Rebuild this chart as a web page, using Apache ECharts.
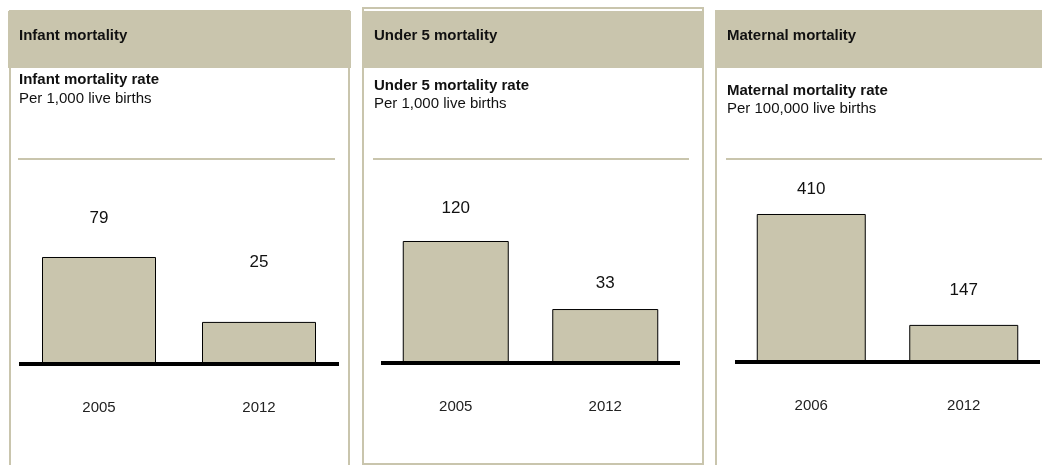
<!DOCTYPE html>
<html>
<head>
<meta charset="utf-8">
<script src="https://cdn.jsdelivr.net/npm/echarts@6/dist/echarts.min.js"></script>
<style>
html,body{margin:0;padding:0;background:#fff;}
#chart{width:1042px;height:465px;}
</style>
</head>
<body>
<div id="chart"></div>
<script>
// ---- data ----
const panelHeaders = ['Infant mortality', 'Under 5 mortality', 'Maternal mortality'];
const panelSubtitles = ['Infant mortality rate', 'Under 5 mortality rate', 'Maternal mortality rate'];
const panelUnits = ['Per 1,000 live births', 'Per 1,000 live births', 'Per 100,000 live births'];
const infantYears = ['2005', '2012'];
const infantValues = [79, 25];
const under5Years = ['2005', '2012'];
const under5Values = [120, 33];
const maternalYears = ['2006', '2012'];
const maternalValues = [410, 147];

// ---- layout / style ----
const BEIGE = '#c9c5ad';
const TEXT = '#111111';
const FONT = '"Liberation Sans", Arial, sans-serif';
const NARROW = '"Liberation Sans Narrow", "Arial Narrow", "Liberation Sans", sans-serif';

const layouts = [
  { left: 19, width: 320, height: 164, min: -10, max: 126.4, barWidth: 114, gaps: [30, 51],
    textX: 19, titleY: 36, subY: 80, unitY: 99, sepX1: 18, sepX2: 335 },
  { left: 381, width: 299, height: 163, min: -36, max: 172.4, barWidth: 106, gaps: [24, 17],
    textX: 374, titleY: 36, subY: 86, unitY: 104, sepX1: 373, sepX2: 689 },
  { left: 735, width: 305, height: 162, min: 59, max: 443.2, barWidth: 109, gaps: [16, 26],
    textX: 727, titleY: 36, subY: 91, unitY: 109, sepX1: 726, sepX2: 1042 }
];
const cats = [infantYears, under5Years, maternalYears];
const vals = [infantValues, under5Values, maternalValues];

const grids = [], xAxes = [], yAxes = [], series = [];
layouts.forEach((L, i) => {
  grids.push({ left: L.left, width: L.width, top: 200, height: L.height, containLabel: false });
  xAxes.push({
    type: 'category', gridIndex: i, data: cats[i], z: 10,
    axisLine: { show: true, onZero: false, lineStyle: { color: '#000', width: 4, cap: 'butt' } },
    axisTick: { show: false },
    axisLabel: { margin: 36, fontSize: 15, color: '#222', fontFamily: FONT }
  });
  yAxes.push({
    type: 'value', gridIndex: i, min: L.min, max: L.max, startValue: L.min, show: false,
    splitLine: { show: false }
  });
  series.push({
    type: 'bar', xAxisIndex: i, yAxisIndex: i, barWidth: L.barWidth, z: 5,
    data: vals[i].map((v, j) => ({
      value: v,
      label: { distance: L.gaps[j] }
    })),
    itemStyle: { color: BEIGE, borderColor: '#000', borderWidth: 1 },
    label: { show: true, position: 'top', fontSize: 17, color: TEXT, fontFamily: NARROW },
    silent: true, animation: false
  });
});

const graphics = [
  // panel 1
  { type: 'rect', z: 0, shape: { x: 10, y: 11, width: 339, height: 470 }, style: { fill: '#fff', stroke: BEIGE, lineWidth: 2 } },
  { type: 'rect', z: 0, shape: { x: 8, y: 11, width: 343, height: 57 }, style: { fill: BEIGE } },
  // panel 2
  { type: 'rect', z: 0, shape: { x: 363, y: 8, width: 340, height: 456 }, style: { fill: '#fff', stroke: BEIGE, lineWidth: 2 } },
  { type: 'rect', z: 0, shape: { x: 362, y: 11, width: 342, height: 57 }, style: { fill: BEIGE } },
  // panel 3
  { type: 'rect', z: 0, shape: { x: 716, y: 11, width: 400, height: 470 }, style: { fill: '#fff', stroke: BEIGE, lineWidth: 2 } },
  { type: 'rect', z: 0, shape: { x: 715, y: 11, width: 330, height: 57 }, style: { fill: BEIGE } }
];
layouts.forEach((L, i) => {
  graphics.push(
    { type: 'line', z: 1, shape: { x1: L.sepX1, y1: 159, x2: L.sepX2, y2: 159 }, style: { stroke: BEIGE, lineWidth: 2 } },
    { type: 'text', z: 1, style: { text: panelHeaders[i], x: L.textX, y: L.titleY, fill: TEXT, font: 'bold 15px ' + FONT, verticalAlign: 'middle' } },
    { type: 'text', z: 1, style: { text: panelSubtitles[i], x: L.textX, y: L.subY, fill: TEXT, font: 'bold 15px ' + FONT, verticalAlign: 'middle' } },
    { type: 'text', z: 1, style: { text: panelUnits[i], x: L.textX, y: L.unitY, fill: TEXT, font: '15px ' + FONT, verticalAlign: 'middle' } }
  );
});

const chart = echarts.init(document.getElementById('chart'), null, { renderer: 'canvas' });
chart.setOption({
  backgroundColor: '#fff',
  animation: false,
  graphic: graphics,
  grid: grids,
  xAxis: xAxes,
  yAxis: yAxes,
  series: series
});
</script>
</body>
</html>
